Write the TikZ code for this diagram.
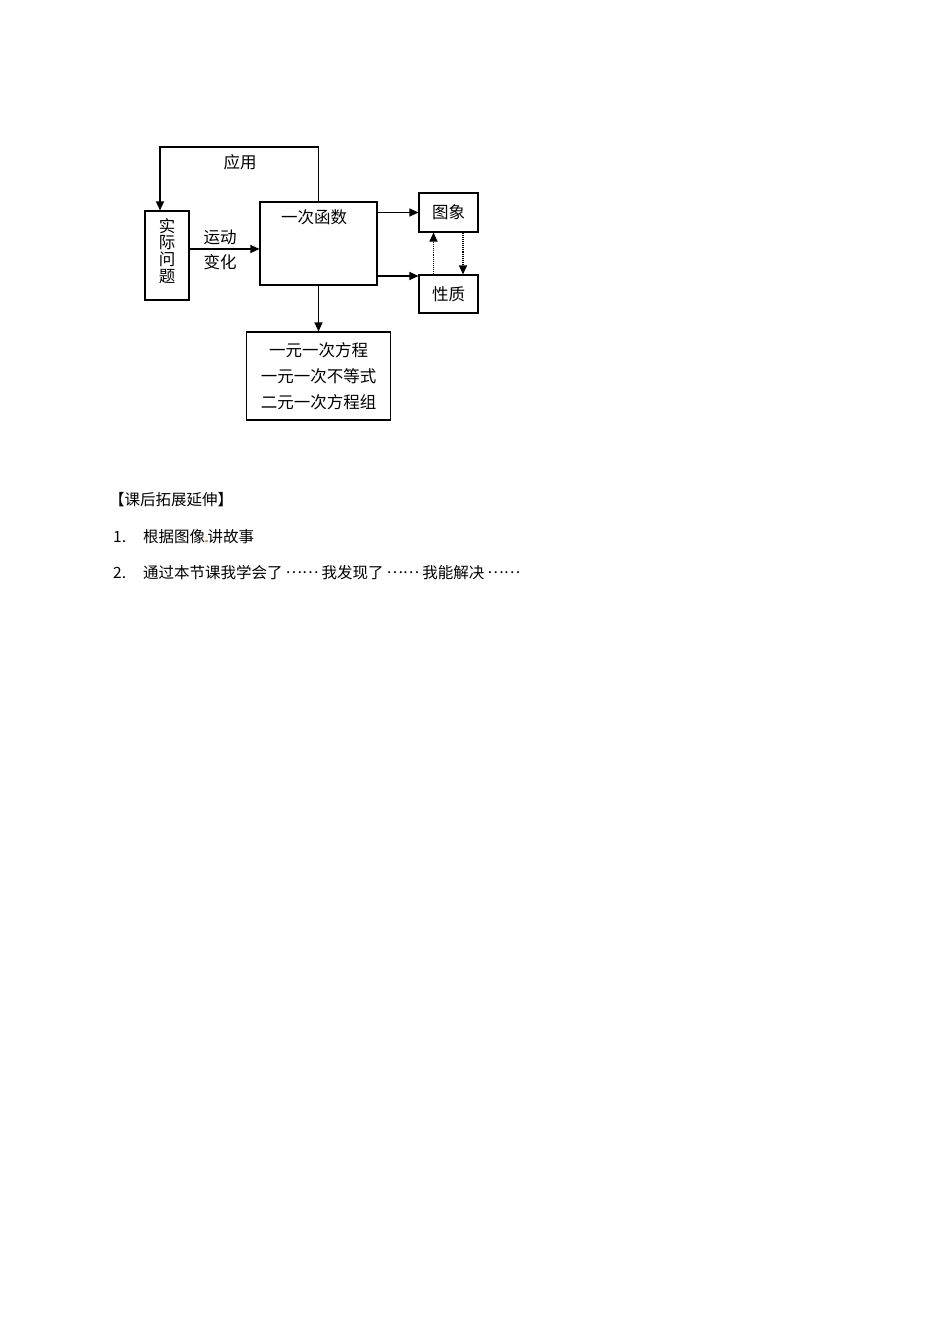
\documentclass[tikz,border=0pt]{standalone}
\usepackage{fontspec}
\setmainfont{Noto Sans CJK SC}
\usetikzlibrary{arrows.meta,positioning}
\definecolor{dotgold}{RGB}{214,165,80}
\newcommand{\middots}{\hspace{3pt}\raisebox{0.32em}{……}\hspace{3pt}}

\tikzset{
    box/.style={draw, line width=1.1pt, inner sep=0pt, font=\fontsize{16.5}{17}\selectfont},
    link/.style={line width=1.1pt, -{Triangle[length=9pt,width=8pt]}},
    dotlink/.style={link, densely dotted},
    txt/.style={inner sep=0pt, font=\fontsize{16.5}{17}\selectfont},
    body/.style={inner sep=0pt, anchor=base west, font=\fontsize{15.5}{18}\selectfont}
}

\begin{document}
\begin{tikzpicture}[x=1pt, y=-1pt]
    \useasboundingbox (0,0) rectangle (950,1344);

% boxes
    \node[box, minimum width=44pt, minimum height=89pt] (prob) at (167,255.5) {};
    \node[txt, align=center, font=\fontsize{16.5}{16.8}\selectfont] (probtext) at (167,251) {实\\际\\问\\题};
    \node[box, minimum width=117pt, minimum height=83pt] (fn) at (318.5,243.5) {};
    \node[txt] (fntext) at (314,217) {一次函数};
    \node[box, minimum width=59pt, minimum height=39pt] (img) at (448.5,212.5) {图象};
    \node[box, minimum width=59pt, minimum height=38pt] (prop) at (448.5,294) {性质};
    \node[box, minimum width=144pt, minimum height=88pt, align=center,
          font=\fontsize{16.5}{26}\selectfont] (eqs) at (318.5,376)
          {一元一次方程\\一元一次不等式\\二元一次方程组};

% labels
    \node[txt] (apply) at (240,162) {应用};
    \node[txt] (move) at (220,237) {运动};
    \node[txt] (change) at (220,262) {变化};

% arrows
    \coordinate (ret) at (160,147);
    \coordinate (propin) at ([yshift=18pt]prop.west);
    \draw[link] (fn.north) |- (ret) -- (ret |- prob.north);
    \draw[link] ([yshift=6.5pt]prob.east) -- ([yshift=6.5pt]prob.east -| fn.west);
    \draw[link] (fn.east |- img.west) -- (img.west);
    \draw[link] (fn.east |- propin) -- (propin);
    \draw[dotlink] ([xshift=-15pt]prop.north) -- ([xshift=-15pt]img.south);
    \draw[dotlink] ([xshift=14.5pt]img.south) -- ([xshift=14.5pt]prop.north);
    \draw[link] (fn.south) -- (eqs.north);

% text below
    \node[body] (head) at (109,505) {【课后拓展延伸】};
    \node[body] (num1) at (113,542) {1.};
    \node[body] (item1) at (143,542) {根据图像\textcolor{dotgold}{\rule{2.5pt}{2.5pt}}讲故事};
    \node[body] (num2) at (113,578) {2.};
    \node[body] (item2) at (143,578)
        {通过本节课我学会了\middots 我发现了\middots 我能解决\middots};

\end{tikzpicture}
\end{document}
